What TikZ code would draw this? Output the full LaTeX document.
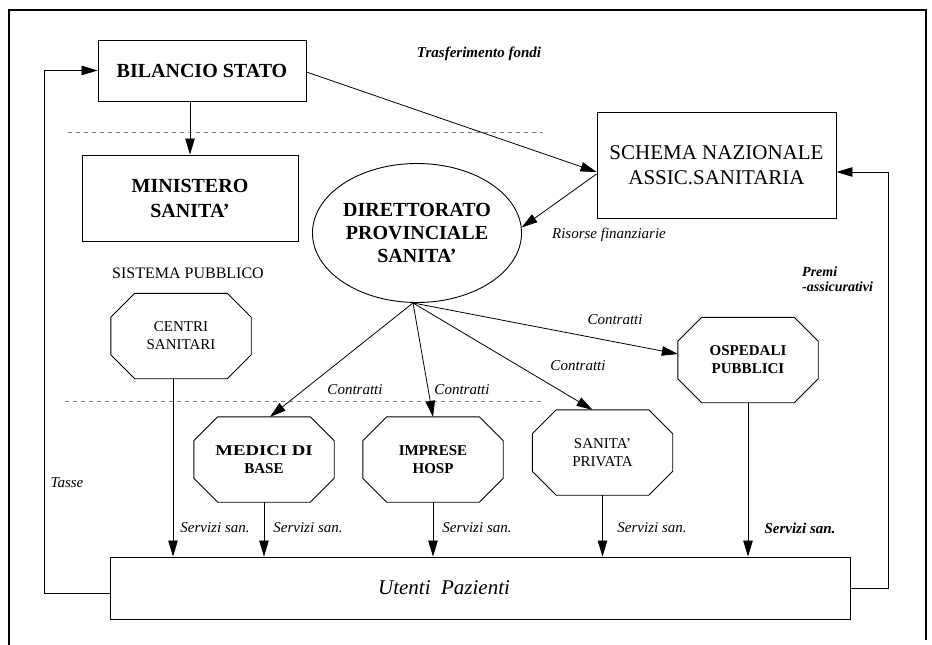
\documentclass[tikz,border=0pt]{standalone}
\usepackage{fontspec}
\setmainfont{Liberation Serif}
\usetikzlibrary{arrows.meta,shapes.geometric,calc}
\newcommand\octdraw[1]{%
  \draw[box] ([xshift=24pt]#1.north west) -- ([xshift=-24pt]#1.north east)
    -- ([yshift=-24pt]#1.north east) -- ([yshift=24pt]#1.south east)
    -- ([xshift=-24pt]#1.south east) -- ([xshift=24pt]#1.south west)
    -- ([yshift=24pt]#1.south west) -- ([yshift=-24pt]#1.north west) -- cycle;}
\begin{document}
\begin{tikzpicture}[x=1pt,y=-1pt,
  box/.style={draw, line width=0.9pt},
  rbox/.style={box, rectangle, inner sep=0pt, align=center},
  octnode/.style={rectangle, inner sep=0pt, align=center, minimum width=140pt, minimum height=85pt},
  octfont/.style={font=\fontsize{15}{18}\selectfont},
  octbold/.style={font=\fontsize{15}{18}\selectfont\bfseries},
  arr/.style={line width=0.8pt, -{Triangle[length=16pt,width=9.5pt]}},
  lbl/.style={font=\fontsize{15}{18}\selectfont\itshape, inner sep=0pt},
  blbl/.style={font=\fontsize{15}{15}\selectfont\bfseries\itshape, inner sep=0pt},
  sep/.style={gray, line width=0.6pt, dash pattern=on 4pt off 4pt},
]
\useasboundingbox (0,0) rectangle (932,645);
% frame
\draw[line width=1.2pt] (9,645) -- (9,10) -- (926,10) -- (926,640);
% separators
\draw[sep] (68,132) -- (543,132);
\draw[sep] (65,401) -- (543,401);
% nodes
\node[rbox, minimum width=208pt, minimum height=61pt, font=\fontsize{20}{24}\selectfont\bfseries] (bil) at (202,70.5) {BILANCIO STATO};
\node[rbox, minimum width=216pt, minimum height=86pt, font=\fontsize{20}{25}\selectfont\bfseries] (min) at (190,198) {MINISTERO\\SANITA'};
\node[rbox, minimum width=239pt, minimum height=106pt, font=\fontsize{21}{25}\selectfont] (sch) at (716.5,165) {SCHEMA NAZIONALE\\ASSIC.SANITARIA};
\node[draw, ellipse, line width=0.9pt, minimum width=208pt, minimum height=139pt, inner sep=0pt, align=center, font=\fontsize{20}{23}\selectfont\bfseries] (dir) at (417,233) {DIRETTORATO\\PROVINCIALE\\SANITA'};
\node[rbox, minimum width=740pt, minimum height=62pt] (ut) at (480,588) {};
\node[font=\fontsize{21}{25}\selectfont\itshape, inner sep=0pt] (uttext) at (444,588) {Utenti\ \ Pazienti};

\node[octnode, octfont] (centri) at (181,336) {CENTRI\\SANITARI};
\node[octnode, octbold] (medici) at (264,459.5) {{\addfontfeature{FakeStretch=1.25}MEDICI DI}\\BASE};
\node[octnode, octbold] (imprese) at (433,459.5) {IMPRESE\\HOSP};
\node[octnode, octfont] (privata) at (602.5,452.5) {SANITA'\\PRIVATA};
\node[octnode, octbold] (osp) at (748,360) {OSPEDALI\\PUBBLICI};
\octdraw{centri}
\octdraw{medici}
\octdraw{imprese}
\octdraw{privata}
\octdraw{osp}

% connectors
\draw[arr] (bil.south -| min.north) -- (min.north);
\draw[arr] ([yshift=-1.5pt]bil.east) -- ([yshift=-7pt]sch.west);
\draw[arr] ([yshift=-9pt]sch.west) -- (dir.3);
\coordinate (ll) at (44,70.5);
\draw[arr] ([yshift=-5pt]ut.west) -| (ll) -- (bil.west);
\coordinate (rr) at (888,172);
\draw[arr] (ut.east) -| (rr) -- (rr -| sch.east);
\coordinate (dS) at ([xshift=-4pt]dir.south);
\draw[arr] (dS) -- ([xshift=6pt]medici.north);
\draw[arr] (dS) -- (imprese.north);
\draw[arr] (dS) -- ([xshift=-10pt]privata.north);
\draw[arr] (dS) -- ([yshift=6pt]osp.west);
\draw[arr] ([xshift=-8pt]centri.south) -- ([xshift=-8pt]centri.south |- ut.north);
\foreach \n in {medici,imprese,privata,osp} \draw[arr] (\n.south) -- (\n.south |- ut.north);

% labels
\node[blbl] (tf) at (479,54) {Trasferimento fondi};
\node[lbl] (rf) at (609,235) {Risorse finanziarie};
\node[blbl, align=left, anchor=west, font=\fontsize{14}{15}\selectfont\bfseries\itshape] (pa) at (802,279) {Premi\\-assicurativi};
\node[lbl] (tx) at (67,483) {Tasse};
\node[font=\fontsize{16}{19}\selectfont, inner sep=0pt] (sp) at (188,273) {SISTEMA PUBBLICO};
\node[lbl] (c1) at (355,390) {Contratti};
\node[lbl] (c2) at (462,390) {Contratti};
\node[lbl] (c3) at (578,366) {Contratti};
\node[lbl] (c4) at (615,320) {Contratti};
\node[lbl] (s1) at (215,528) {Servizi san.};
\node[lbl] (s2) at (308,528) {Servizi san.};
\node[lbl] (s3) at (477,528) {Servizi san.};
\node[lbl] (s4) at (652,528) {Servizi san.};
\node[blbl] (s5) at (800,528) {Servizi san.};
\end{tikzpicture}
\end{document}
